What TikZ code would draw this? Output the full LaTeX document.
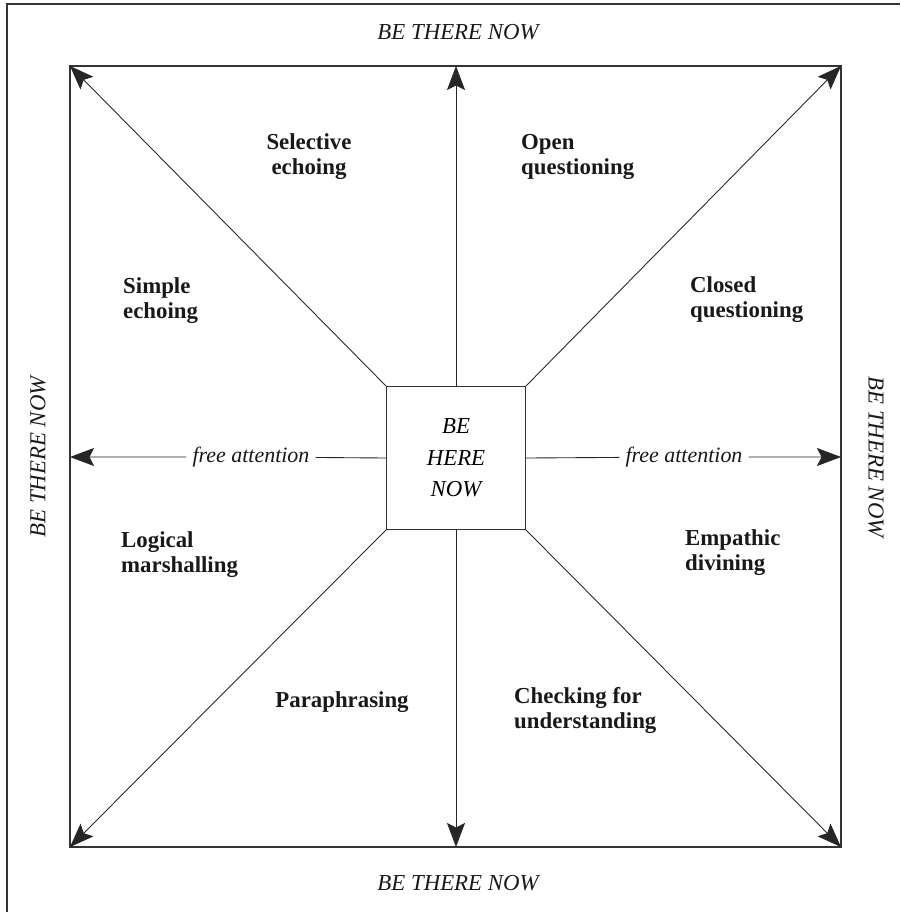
\documentclass[tikz,border=0pt]{standalone}
\usepackage{fontspec}
\setmainfont{Liberation Serif}
\usetikzlibrary{arrows.meta}

\begin{document}
\begin{tikzpicture}[x=0.02cm,y=-0.02cm,font=\fontsize{13}{14.2}\selectfont]
% Styles
\tikzstyle{frame} = [draw=black!80, line width=0.6pt]
\tikzstyle{arrow} = [draw=black!85, line width=0.5pt, -{Stealth[length=4.8mm,width=3.6mm,inset=0.9mm]}]
\tikzstyle{skill} = [font=\fontsize{13}{14.2}\selectfont\bfseries, align=left, text=black!90]
\tikzstyle{there} = [font=\fontsize{13}{14.2}\selectfont\itshape, text=black!90]
\tikzstyle{free} = [font=\fontsize{12.5}{14.2}\selectfont\itshape, text=black!90, fill=white]
\tikzstyle{centre} = [rectangle, draw=black!80, line width=0.6pt, minimum width=2.78cm, minimum height=2.86cm, align=center, font=\fontsize{13}{18}\selectfont\itshape, inner sep=0pt]

\useasboundingbox (0,0) rectangle (900,912);

% Outer frame (top and left edges only)
\draw [frame] (900,4) -- (7,4) -- (7,912);

% Corners of the square
\coordinate (tl) at (70,66);
\coordinate (tr) at (841,66);
\coordinate (bl) at (70,847);
\coordinate (br) at (841,847);
\coordinate (tm) at (456,66);
\coordinate (bm) at (456,847);
\coordinate (lm) at (70,457);
\coordinate (rm) at (841,457);
\draw [frame] (tl) -- (tr) -- (br) -- (bl) -- cycle;

% Nodes
\node (here) [centre] at (456,458) {BE\\HERE\\NOW};
\node (there_top) [there] at (458,32) {BE THERE NOW};
\node (there_bottom) [there] at (458,883) {BE THERE NOW};
\node (there_left) [there, rotate=90] at (38,457) {BE THERE NOW};
\node (there_right) [there, rotate=-90] at (876,457) {BE THERE NOW};

\node (selective) [skill, align=center] at (309,157) {Selective\\echoing};
\node (open) [skill, anchor=west] at (515,157) {Open\\questioning};
\node (simple) [skill, anchor=west] at (117,301) {Simple\\echoing};
\node (closed) [skill, anchor=west] at (684,300) {Closed\\questioning};
\node (logical) [skill, anchor=west] at (115,555) {Logical\\marshalling};
\node (empathic) [skill, anchor=west] at (679,553) {Empathic\\divining};
\node (paraphrasing) [skill] at (342,702) {Paraphrasing};
\node (checking) [skill, anchor=west] at (508,710) {Checking for\\understanding};

\node (free_left) [free] at (251,457) {free attention};
\node (free_right) [free] at (684,457) {free attention};

% Arrows
\draw [arrow] (here.north west) -- (tl);
\draw [arrow] (here.north east) -- (tr);
\draw [arrow] (here.south west) -- (bl);
\draw [arrow] (here.south east) -- (br);
\draw [arrow] (here.north) -- (tm);
\draw [arrow] (here.south) -- (bm);
\draw [arrow] (here.west) -- (free_left) -- (lm);
\draw [arrow] (here.east) -- (free_right) -- (rm);
\end{tikzpicture}
\end{document}
